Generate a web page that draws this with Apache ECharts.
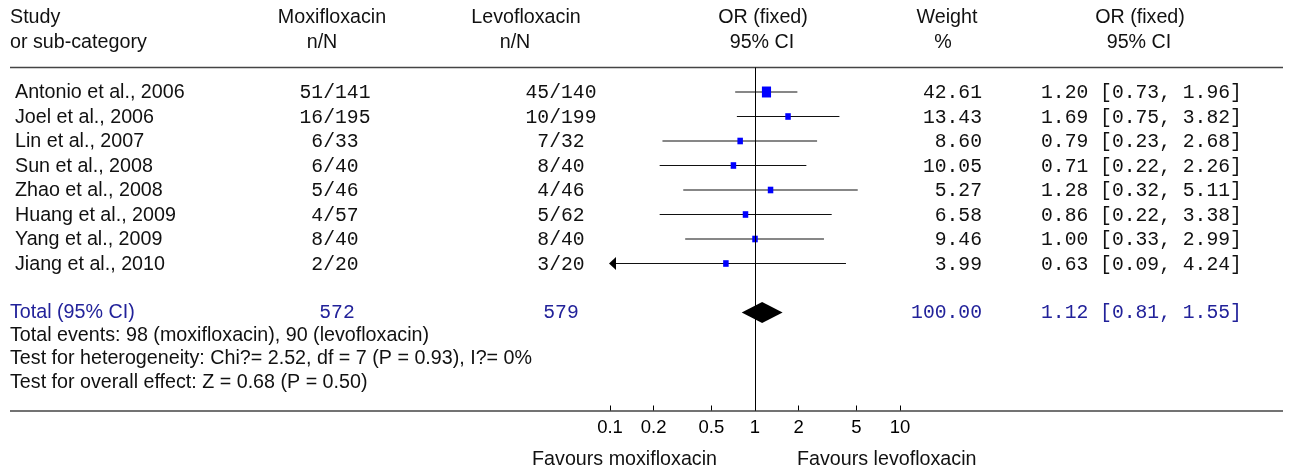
<!DOCTYPE html>
<html><head><meta charset="utf-8">
<script src="https://cdn.jsdelivr.net/npm/echarts@6/dist/echarts.min.js"></script>
<style>html,body{margin:0;padding:0;background:#fff}#c{width:1296px;height:473px}</style>
</head><body><div id="c"></div>
<script>
// ---------- data ----------
const studies = ['Antonio et al., 2006','Joel et al., 2006','Lin et al., 2007','Sun et al., 2008','Zhao et al., 2008','Huang et al., 2009','Yang et al., 2009','Jiang et al., 2010'];
const moxiEvents = [51,16,6,6,5,4,8,2];
const moxiTotal  = [141,195,33,40,46,57,40,20];
const levoEvents = [45,10,7,8,4,5,8,3];
const levoTotal  = [140,199,32,40,46,62,40,20];
const weights    = [42.61,13.43,8.60,10.05,5.27,6.58,9.46,3.99];
const orValues   = [1.20,1.69,0.79,0.71,1.28,0.86,1.00,0.63];
const ciLower    = [0.73,0.75,0.23,0.22,0.32,0.22,0.33,0.09];
const ciUpper    = [1.96,3.82,2.68,2.26,5.11,3.38,2.99,4.24];
const totalLabel = 'Total (95% CI)';
const totalMoxi = 572, totalLevo = 579, totalWeight = 100.00;
const totalOR = 1.12, totalLower = 0.81, totalUpper = 1.55;
const footnotes = ['Total events: 98 (moxifloxacin), 90 (levofloxacin)',
  'Test for heterogeneity: Chi?= 2.52, df = 7 (P = 0.93), I?= 0%',
  'Test for overall effect: Z = 0.68 (P = 0.50)'];
const tickValues = [0.1,0.2,0.5,1,2,5,10];
const tickLabels = ['0.1','0.2','0.5','1','2','5','10'];
const favourLeft = 'Favours moxifloxacin', favourRight = 'Favours levofloxacin';

// ---------- style ----------
const SANS = '"Liberation Sans", Arial, sans-serif';
const MONO = '"Liberation Mono", "Courier New", monospace';
const FS = 19.7, FM = 19.7;
const TXT = '#111', BLUE_TXT = '#22229a';
const X_MIN = 0.1, X_MAX = 10;
const TOTAL_ROW = studies.length + 1;
const fmt = (v) => v.toFixed(2);

const chart = echarts.init(document.getElementById('c'), null, {renderer: 'canvas'});

const studyData = studies.map((s, i) => [orValues[i], ciLower[i], ciUpper[i], weights[i], i]);
const tableData = studies.map((s, i) => [i]);

function txt(x, y, text, align, font, size, color) {
  return {type: 'text', x: x, y: y, style: {text: text, textAlign: align, textVerticalAlign: 'middle', font: size + 'px ' + font, fill: color}};
}

const option = {
  animation: false,
  backgroundColor: '#fff',
  grid: {left: 610, width: 290, top: 67.5, height: 343, containLabel: false},
  xAxis: {
    type: 'log', logBase: 10, min: X_MIN, max: X_MAX, position: 'bottom',
    axisLine: {show: false, onZero: false},
    splitLine: {show: false},
    axisTick: {show: true, inside: true, length: 5, customValues: tickValues, lineStyle: {color: '#000', width: 1}},
    axisLabel: {customValues: tickValues, margin: 8, fontFamily: SANS, fontSize: 18.5, color: '#000',
      formatter: (v) => { const k = tickValues.findIndex(t => Math.abs(t - v) < 1e-9); return k >= 0 ? tickLabels[k] : ''; }}
  },
  yAxis: {type: 'value', inverse: true, min: -1, max: 13, show: false},
  graphic: [
    // table rules
    {type: 'line', shape: {x1: 10, y1: 67.5, x2: 1283, y2: 67.5}, style: {stroke: '#444', lineWidth: 1.7}},
    {type: 'line', shape: {x1: 10, y1: 411, x2: 1283, y2: 411}, style: {stroke: '#444', lineWidth: 1.7}},
    // headers
    txt(10, 18, 'Study', 'left', SANS, FS, TXT),
    txt(10, 43, 'or sub-category', 'left', SANS, FS, TXT),
    txt(332, 18, 'Moxifloxacin', 'center', SANS, FS, TXT),
    txt(322, 43, 'n/N', 'center', SANS, FS, TXT),
    txt(526, 18, 'Levofloxacin', 'center', SANS, FS, TXT),
    txt(515, 43, 'n/N', 'center', SANS, FS, TXT),
    txt(763, 18, 'OR (fixed)', 'center', SANS, FS, TXT),
    txt(762, 43, '95% CI', 'center', SANS, FS, TXT),
    txt(947, 18, 'Weight', 'center', SANS, FS, TXT),
    txt(943, 43, '%', 'center', SANS, FS, TXT),
    txt(1140, 18, 'OR (fixed)', 'center', SANS, FS, TXT),
    txt(1139, 43, '95% CI', 'center', SANS, FS, TXT),
    // favours
    txt(717, 460, favourLeft, 'right', SANS, FS, TXT),
    txt(797, 460, favourRight, 'left', SANS, FS, TXT)
  ],
  series: [
    {
      name: 'table', type: 'custom', silent: true, clip: false,
      data: tableData,
      encode: {y: 0},
      renderItem: function (params, api) {
        const i = api.value(0);
        const y = api.coord([1, i])[1] + 1;
        return {type: 'group', children: [
          txt(15, y, studies[i], 'left', SANS, FS, TXT),
          txt(335, y, moxiEvents[i] + '/' + moxiTotal[i], 'center', MONO, FM, TXT),
          txt(561, y, levoEvents[i] + '/' + levoTotal[i], 'center', MONO, FM, TXT),
          txt(982, y, fmt(weights[i]), 'right', MONO, FM, TXT),
          txt(1041, y, fmt(orValues[i]) + ' [' + fmt(ciLower[i]) + ', ' + fmt(ciUpper[i]) + ']', 'left', MONO, FM, TXT)
        ]};
      }
    },
    {
      name: 'totals', type: 'custom', silent: true, clip: false,
      data: [[TOTAL_ROW]],
      encode: {y: 0},
      renderItem: function (params, api) {
        const y = api.coord([1, api.value(0)])[1];
        const y1 = api.coord([1, TOTAL_ROW + 0.95])[1];
        const y2 = api.coord([1, TOTAL_ROW + 1.9])[1];
        const y3 = api.coord([1, TOTAL_ROW + 2.85])[1];
        return {type: 'group', children: [
          txt(10, y, totalLabel, 'left', SANS, FS, BLUE_TXT),
          txt(337, y, String(totalMoxi), 'center', MONO, FM, BLUE_TXT),
          txt(561, y, String(totalLevo), 'center', MONO, FM, BLUE_TXT),
          txt(982, y, fmt(totalWeight), 'right', MONO, FM, BLUE_TXT),
          txt(1041, y, fmt(totalOR) + ' [' + fmt(totalLower) + ', ' + fmt(totalUpper) + ']', 'left', MONO, FM, BLUE_TXT),
          txt(10, y1, footnotes[0], 'left', SANS, FS, TXT),
          txt(10, y2, footnotes[1], 'left', SANS, FS, TXT),
          txt(10, y3, footnotes[2], 'left', SANS, FS, TXT)
        ]};
      }
    },
    {
      name: 'studies', type: 'custom', silent: true, clip: false,
      data: studyData,
      encode: {x: [0, 1, 2], y: 4},
      renderItem: function (params, api) {
        const orv = api.value(0), lo = api.value(1), hi = api.value(2), w = api.value(3), row = api.value(4);
        const pLo = api.coord([Math.max(lo, X_MIN), row]);
        const pHi = api.coord([Math.min(hi, X_MAX), row]);
        const pM = api.coord([orv, row]);
        const bw = Math.max(5.5, 1.4 * Math.sqrt(w));
        const bh = bw * 1.2;
        const children = [
          {type: 'line', shape: {x1: pLo[0], y1: pLo[1], x2: pHi[0], y2: pHi[1]}, style: {stroke: '#111', lineWidth: 1.2}},
          {type: 'rect', shape: {x: pM[0] - bw / 2, y: pM[1] - bh / 2, width: bw, height: bh}, style: {fill: '#0000ff'}}
        ];
        if (lo < X_MIN) {
          children.push({type: 'polygon', shape: {points: [[pLo[0] - 1, pLo[1]], [pLo[0] + 6, pLo[1] - 6.5], [pLo[0] + 6, pLo[1] + 6.5]]}, style: {fill: '#000'}});
        }
        return {type: 'group', children: children};
      },
      markLine: {
        silent: true, symbol: 'none', label: {show: false},
        lineStyle: {color: '#000', width: 1, type: 'solid'},
        data: [[{coord: [1, -1]}, {coord: [1, 13]}]]
      }
    },
    {
      name: 'pooled', type: 'custom', silent: true, clip: false,
      data: [[totalOR, totalLower, totalUpper, TOTAL_ROW]],
      encode: {x: [0, 1, 2], y: 3},
      renderItem: function (params, api) {
        const row = api.value(3);
        const c = api.coord([api.value(0), row]);
        const l = api.coord([api.value(1), row]);
        const r = api.coord([api.value(2), row]);
        const hh = 10.5;
        return {type: 'polygon', shape: {points: [[l[0], l[1]], [c[0], c[1] - hh], [r[0], r[1]], [c[0], c[1] + hh]]}, style: {fill: '#000'}};
      }
    }
  ]
};
chart.setOption(option);
</script>
</body></html>
